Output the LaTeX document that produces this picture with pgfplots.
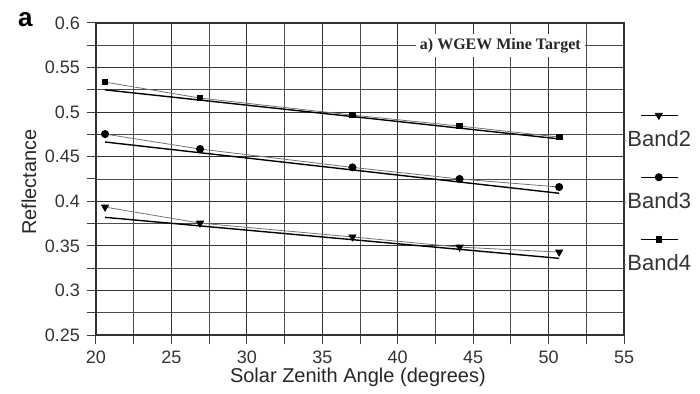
\documentclass[border=0pt]{standalone}
\usepackage{pgfplots}
\pgfplotsset{compat=1.18}
\usepackage{fontspec}
\setmainfont{Liberation Sans}
\newfontfamily\timesfont{Liberation Serif}

\begin{document}
\begin{tikzpicture}
\begin{axis}[
  scale only axis, width=264pt, height=156pt,
  xmin=20, xmax=55, ymin=0.25, ymax=0.6,
  xtick={20,25,30,35,40,45,50,55},
  ytick={0.25,0.3,0.35,0.4,0.45,0.5,0.55,0.6},
  yticklabels={0.25,0.3,0.35,0.4,0.45,0.5,0.55,0.6},
  minor x tick num=1, minor y tick num=1,
  grid=both,
  major grid style={black!80, line width=0.55pt},
  minor grid style={black!70, line width=0.45pt},
  tick align=outside, tick pos=left,
  major tick length=4.5pt, minor tick length=4.5pt,
  every tick/.style={black!75, line width=0.5pt},
  axis line style={black!80, line width=0.7pt},
  /pgf/number format/assume math mode=true,
  tick label style={font=\fontsize{9}{10}\selectfont, text=black!80},
  xlabel={Solar Zenith Angle (degrees)}, ylabel={Reflectance},
  label style={font=\fontsize{10}{12}\selectfont, text=black!85},
  xlabel style={at={(axis description cs:0.496,-0.135)}, anchor=center},
  ylabel style={at={(axis description cs:-0.127,0.49)}, anchor=center},
  clip=false,
  legend style={at={(rel axis cs:1.0,0.662)}, anchor=north west, draw=none, fill=none,
    font=\fontsize{11}{12}\selectfont, text=black!80, row sep=19.5pt, inner sep=0pt,
    nodes={inner sep=1pt}},
  legend cell align=left,
  legend image code/.code={%
    \draw[black, line width=0.5pt, overlay] (8pt,12.5pt) -- (26.5pt,12.5pt);
    \draw[#1, overlay, only marks] plot coordinates {(17pt,12.5pt)};
    \path (0,0) rectangle (0.1pt,0.1pt);
  },
]
% linear fits
\addplot[black, line width=0.7pt, forget plot] coordinates {(20.6,0.382) (50.7,0.336)};
\addplot[black, line width=0.7pt, forget plot] coordinates {(20.6,0.4665) (50.7,0.409)};
\addplot[black, line width=0.7pt, forget plot] coordinates {(20.6,0.525) (50.7,0.470)};
% data
\addplot[black!55, line width=0.4pt, mark=triangle*, mark size=2pt,
  mark options={black, rotate=180, solid}] coordinates {
  (20.6,0.3935) (26.9,0.3755) (37.0,0.360) (44.1,0.3486) (50.7,0.343)};
\addlegendentry{Band2}
\addplot[black!55, line width=0.4pt, mark=*, mark size=1.8pt,
  mark options={black, solid}] coordinates {
  (20.6,0.4754) (26.9,0.4586) (37.0,0.438) (44.1,0.425) (50.7,0.416)};
\addlegendentry{Band3}
\addplot[black!55, line width=0.4pt, mark=square*, mark size=1.4pt,
  mark options={black, solid}] coordinates {
  (20.6,0.5337) (26.9,0.5158) (37.0,0.4967) (44.1,0.4844) (50.7,0.472)};
\addlegendentry{Band4}
\node[fill=white, inner sep=2pt, font=\timesfont\bfseries\fontsize{8}{9}\selectfont, text=black!85]
  at (axis cs:46.8,0.575) {a) WGEW Mine Target};
\node[font=\bfseries\fontsize{13}{14}\selectfont, anchor=center]
  at (axis description cs:-0.134,1.01) {a};
\path (rel axis cs:-0.1818,-0.1859) rectangle (rel axis cs:1.1439,1.0737);
\end{axis}
\end{tikzpicture}
\end{document}
